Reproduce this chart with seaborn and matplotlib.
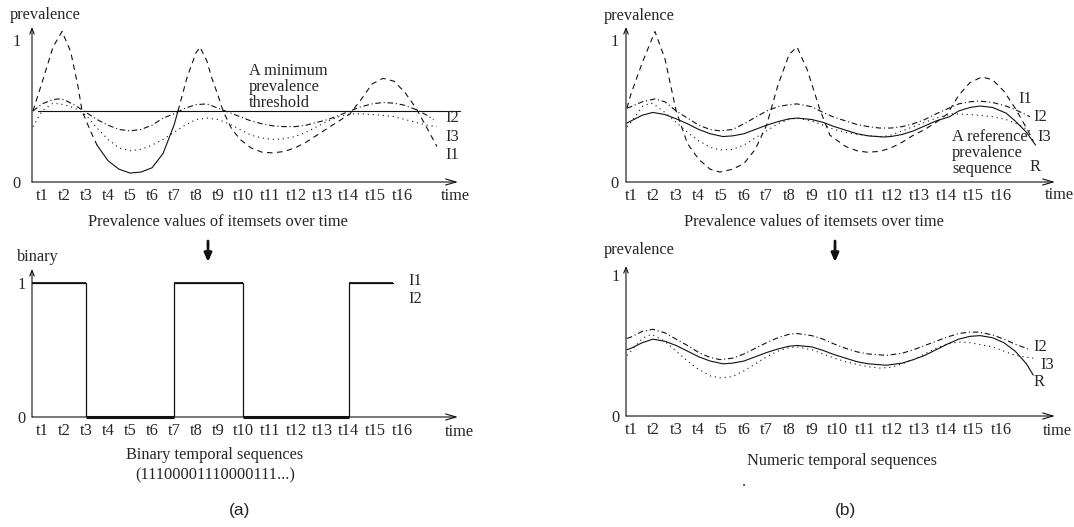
import numpy as np
import pandas as pd
import matplotlib
matplotlib.use("Agg")
import matplotlib.pyplot as plt
import seaborn as sns

sns.set_style("white")
plt.rcParams["font.family"] = ["Liberation Serif", "DejaVu Serif"]

W, H = 1074, 527
INK = "#111111"

# time axis (labels are not evenly spaced in the original)
tick_labels = ["t%d" % i for i in range(1, 17)]
tick_pos = [1, 2, 3, 4, 5, 6, 7, 8, 9, 10.15, 11.35, 12.55, 13.75, 14.95, 16.15, 17.4]

threshold = 0.5

# ---- (a) prevalence values of itemsets over time
a_i1_t = [0.59, 1.0, 1.5, 1.91, 2.3, 2.64, 2.82, 3.2, 3.5, 4.0, 4.5, 5.0, 5.5, 6.0, 6.5,
          7.0, 7.18, 7.6, 8.0, 8.18, 8.5, 8.7, 9.0, 9.23, 9.6, 10.0, 10.5, 11.0, 11.5, 12.0,
          12.5, 13.0, 13.5, 14.0, 14.5, 15.0, 15.5, 16.0, 16.5, 17.0, 17.5, 18.0, 18.5, 18.95]
a_i1_v = [0.50, 0.70, 0.95, 1.06, 0.92, 0.67, 0.50, 0.36, 0.26, 0.15, 0.09, 0.063, 0.07, 0.10, 0.20,
          0.40, 0.50, 0.74, 0.91, 0.95, 0.85, 0.74, 0.61, 0.50, 0.38, 0.30, 0.24, 0.21, 0.205, 0.215,
          0.24, 0.28, 0.33, 0.38, 0.43, 0.48, 0.58, 0.69, 0.73, 0.71, 0.63, 0.52, 0.38, 0.25]
a_i1_solid = (3.5, 7.18)   # part of I1 drawn solid (below threshold)

a_i2_t = [0.59, 1.0, 1.5, 1.73, 2.0, 2.5, 3.0, 3.5, 4.0, 4.5, 5.0, 5.5, 6.0, 6.5, 7.0, 7.5,
          8.0, 8.5, 9.0, 9.5, 10.0, 10.5, 11.0, 11.5, 12.0, 12.5, 13.0, 13.5, 14.0, 14.5,
          15.0, 15.5, 16.0, 16.5, 17.0, 17.5, 18.0, 18.5, 18.8]
a_i2_v = [0.50, 0.55, 0.58, 0.585, 0.58, 0.54, 0.49, 0.44, 0.40, 0.37, 0.36, 0.37, 0.40, 0.45, 0.48, 0.52,
          0.545, 0.55, 0.52, 0.49, 0.46, 0.43, 0.41, 0.395, 0.39, 0.39, 0.40, 0.42, 0.44, 0.47,
          0.50, 0.53, 0.55, 0.56, 0.555, 0.54, 0.51, 0.47, 0.44]

a_i3_t = [0.59, 1.0, 1.5, 2.0, 2.5, 3.0, 3.5, 4.0, 4.5, 5.0, 5.5, 6.0, 6.5, 7.0, 7.5, 8.0,
          8.5, 9.0, 9.5, 10.0, 10.5, 11.0, 11.5, 12.0, 12.5, 13.0, 13.5, 14.0, 14.5, 15.0,
          15.5, 16.0, 16.5, 17.0, 17.5, 18.0, 18.5, 18.95]
a_i3_v = [0.39, 0.50, 0.555, 0.545, 0.52, 0.47, 0.38, 0.30, 0.24, 0.22, 0.23, 0.26, 0.30, 0.35, 0.40, 0.44,
          0.45, 0.44, 0.41, 0.37, 0.33, 0.31, 0.30, 0.305, 0.32, 0.35, 0.39, 0.43, 0.46, 0.48,
          0.48, 0.475, 0.47, 0.46, 0.44, 0.42, 0.40, 0.39]

# binary sequence 11100001110000111...
bin_levels = [1, 0, 1, 0, 1]
bin_switch = ["t3", "t7", "t10", "t14"]
bin_end = 16.95

# ---- (b) prevalence values with a reference sequence R
b_i1_t = [0.82, 1.0, 1.5, 2.06, 2.5, 3.0, 3.5, 4.0, 4.5, 4.94, 5.5, 6.0, 6.5, 7.0, 7.5, 8.0,
          8.35, 8.8, 9.36, 9.8, 10.5, 11.0, 11.44, 12.0, 12.5, 13.0, 13.5, 14.0, 14.5, 15.0,
          15.5, 16.0, 16.53, 17.0, 17.5, 18.0, 18.5, 18.8]
b_i1_v = [0.52, 0.62, 0.84, 1.06, 0.87, 0.50, 0.27, 0.16, 0.09, 0.07, 0.09, 0.13, 0.23, 0.40, 0.68, 0.90,
          0.95, 0.79, 0.51, 0.33, 0.25, 0.22, 0.21, 0.215, 0.24, 0.28, 0.33, 0.37, 0.42, 0.48,
          0.61, 0.70, 0.74, 0.72, 0.64, 0.52, 0.38, 0.29]

b_i2_t = [0.82, 1.0, 1.5, 2.06, 2.5, 3.0, 3.5, 4.0, 4.5, 4.94, 5.5, 6.0, 6.5, 7.0, 7.5, 8.0,
          8.35, 9.0, 9.5, 10.0, 10.5, 11.0, 11.5, 12.0, 12.5, 13.0, 13.5, 14.0, 14.5, 15.0,
          15.5, 16.0, 16.4, 17.0, 17.5, 18.0, 18.65]
b_i2_v = [0.52, 0.53, 0.565, 0.585, 0.565, 0.50, 0.45, 0.40, 0.37, 0.36, 0.37, 0.41, 0.455, 0.50, 0.53, 0.545,
          0.55, 0.53, 0.49, 0.455, 0.43, 0.405, 0.39, 0.38, 0.38, 0.39, 0.41, 0.44, 0.48, 0.515,
          0.55, 0.565, 0.57, 0.56, 0.54, 0.51, 0.46]

b_i3_t = [0.82, 1.0, 1.5, 1.84, 2.0, 2.5, 3.0, 3.5, 4.0, 4.5, 4.94, 5.5, 6.0, 6.5, 7.0, 7.5,
          8.0, 8.35, 9.0, 9.5, 10.0, 10.5, 11.0, 11.5, 12.15, 12.5, 13.0, 13.5, 14.0, 14.5,
          15.2, 16.0, 16.4, 17.0, 17.6, 18.2, 18.8]
b_i3_v = [0.39, 0.42, 0.53, 0.556, 0.55, 0.49, 0.42, 0.35, 0.29, 0.245, 0.225, 0.23, 0.26, 0.31, 0.36, 0.41,
          0.44, 0.45, 0.43, 0.40, 0.37, 0.35, 0.335, 0.325, 0.32, 0.33, 0.36, 0.39, 0.42, 0.45,
          0.48, 0.475, 0.47, 0.46, 0.44, 0.40, 0.345]

b_r_t = [0.82, 1.0, 1.5, 1.97, 2.5, 3.0, 3.5, 4.0, 4.5, 5.07, 5.5, 6.0, 6.5, 7.0, 7.5, 8.0,
         8.35, 9.0, 9.5, 10.0, 10.5, 11.0, 11.5, 12.15, 12.5, 13.0, 13.5, 14.0, 14.5, 15.1,
         15.5, 16.0, 16.45, 17.0, 17.6, 18.0, 18.5, 18.9]
b_r_v = [0.415, 0.43, 0.47, 0.49, 0.475, 0.445, 0.41, 0.37, 0.34, 0.32, 0.325, 0.34, 0.37, 0.40, 0.425, 0.445,
         0.45, 0.44, 0.42, 0.39, 0.365, 0.34, 0.325, 0.317, 0.32, 0.335, 0.36, 0.395, 0.43, 0.46,
         0.50, 0.525, 0.535, 0.525, 0.485, 0.43, 0.35, 0.26]

# numeric temporal sequences (kept itemsets + R)
n_i2_t = [0.82, 1.0, 1.5, 1.97, 2.5, 3.0, 3.5, 4.0, 4.5, 4.94, 5.5, 6.0, 6.5, 7.0, 7.5, 8.0,
          8.35, 9.0, 9.5, 10.0, 10.5, 11.0, 11.5, 12.3, 13.0, 13.5, 14.0, 14.5, 15.0, 15.5,
          16.0, 16.4, 17.0, 17.5, 18.0, 18.65]
n_i2_v = [0.55, 0.56, 0.60, 0.615, 0.59, 0.545, 0.50, 0.45, 0.415, 0.40, 0.41, 0.44, 0.48, 0.52, 0.555, 0.58,
          0.585, 0.57, 0.545, 0.51, 0.48, 0.455, 0.44, 0.43, 0.445, 0.47, 0.50, 0.53, 0.56, 0.585,
          0.595, 0.595, 0.575, 0.545, 0.51, 0.47]

n_i3_t = [0.82, 1.0, 1.5, 1.9, 2.5, 3.0, 3.5, 4.0, 4.5, 4.94, 5.5, 6.0, 6.5, 7.0, 7.5, 8.0,
          8.35, 9.0, 9.5, 10.0, 10.5, 11.0, 11.5, 12.0, 12.5, 13.0, 13.5, 14.0, 14.5, 15.0,
          15.5, 16.0, 16.5, 17.0, 17.5, 18.0, 18.8]
n_i3_v = [0.43, 0.46, 0.55, 0.58, 0.53, 0.46, 0.39, 0.33, 0.285, 0.27, 0.28, 0.32, 0.37, 0.42, 0.46, 0.485,
          0.49, 0.47, 0.44, 0.41, 0.385, 0.365, 0.35, 0.34, 0.345, 0.37, 0.40, 0.44, 0.48, 0.51,
          0.525, 0.52, 0.505, 0.49, 0.46, 0.43, 0.41]

n_r_t = [0.82, 1.0, 1.5, 1.97, 2.5, 3.0, 3.5, 4.0, 4.5, 5.07, 5.5, 6.0, 6.5, 7.0, 7.5, 8.0,
         8.35, 9.0, 9.5, 10.0, 10.5, 11.0, 11.5, 12.3, 13.0, 13.5, 14.0, 14.5, 15.0, 15.5,
         16.0, 16.45, 17.0, 17.5, 18.0, 18.5, 18.8]
n_r_v = [0.47, 0.48, 0.52, 0.545, 0.53, 0.50, 0.46, 0.42, 0.39, 0.37, 0.375, 0.39, 0.42, 0.45, 0.475, 0.495,
         0.50, 0.49, 0.465, 0.435, 0.41, 0.385, 0.37, 0.36, 0.375, 0.40, 0.43, 0.47, 0.51, 0.545,
         0.565, 0.57, 0.555, 0.52, 0.46, 0.37, 0.29]

DASH = (0, (5, 4))
DASHDOT = (0, (5, 2.5, 1, 2.5))
DOT = (0, (1, 3.5))
FS = 11.8


def fx(px):
    return px / W


def fy(py):
    return 1 - py / H


def panel(left, right, zero, one, top, u0, upx, ypad):
    # axes placed in pixels; upx = pixels per time step
    ax = fig.add_axes([fx(left), fy(zero), (right - left) / W, (zero - top) / H])
    ax.set_xlim(u0, u0 + (right - left) / upx)
    ax.set_ylim(0, (zero - top) / (zero - one))
    sns.despine(ax=ax, left=True, bottom=True)
    ax.patch.set_alpha(0)
    ax.set_xticks(tick_pos, tick_labels)
    ax.set_yticks([0, 1], ["0", "1"])
    ax.tick_params(axis="x", length=0, pad=4, labelsize=FS)
    ax.tick_params(axis="y", length=0, pad=ypad, labelsize=FS)
    ax.annotate("", xy=(1, 0), xytext=(0, 0), xycoords="axes fraction",
                arrowprops=dict(arrowstyle="->,head_length=0.75,head_width=0.22",
                                lw=0.8, color=INK, shrinkA=0, shrinkB=0),
                annotation_clip=False)
    ax.annotate("", xy=(0, 1), xytext=(0, 0), xycoords="axes fraction",
                arrowprops=dict(arrowstyle="->,head_length=0.4,head_width=0.16",
                                lw=0.8, color=INK, shrinkA=0, shrinkB=0),
                annotation_clip=False)
    return ax


def curve(ax, t, v, ls, lw=0.8):
    df = pd.DataFrame({"t": t, "v": v})
    sns.lineplot(data=df, x="t", y="v", ax=ax, color=INK, lw=lw, linestyle=ls,
                 estimator=None, sort=False)
    ax.set(xlabel="", ylabel="")


fig = plt.figure(figsize=(W / 100, H / 100), dpi=100)

# ---------------- (a) top
ax1 = panel(32, 458, 182, 40, 27, 0.545, 22.0, 8)
ax1.axhline(threshold, xmin=0.014, xmax=1.005, color=INK, lw=0.8, clip_on=False)
t1 = np.array(a_i1_t)
v1 = np.array(a_i1_v)
m_left = t1 <= a_i1_solid[0]
m_mid = (t1 >= a_i1_solid[0]) & (t1 <= a_i1_solid[1])
m_right = t1 >= a_i1_solid[1]
curve(ax1, t1[m_left], v1[m_left], DASH)
curve(ax1, t1[m_mid], v1[m_mid], "-")
curve(ax1, t1[m_right], v1[m_right], DASH)
curve(ax1, a_i2_t, a_i2_v, DASHDOT)
curve(ax1, a_i3_t, a_i3_v, DOT)
ax1.text(10.41, 0.67, "A minimum\nprevalence\nthreshold", fontsize=FS,
         ha="left", va="center", linespacing=1.0)
ax1.text(19.32, 0.45, "I2", fontsize=FS, ha="left", va="center")
ax1.text(19.32, 0.317, "I3", fontsize=FS, ha="left", va="center")
ax1.text(19.32, 0.19, "I1", fontsize=FS, ha="left", va="center")

# ---------------- (a) bottom: binary
ax2 = panel(32, 458, 417, 283, 269, 0.545, 22.0, 4.5)
edges = [ax2.get_xlim()[0]] + [tick_pos[tick_labels.index(s)] for s in bin_switch] + [bin_end]
bdf = pd.DataFrame({"t": edges, "v": bin_levels + [bin_levels[-1]]})
sns.lineplot(data=bdf, x="t", y="v", ax=ax2, color=INK, lw=0.9,
             drawstyle="steps-post", estimator=None, sort=False)
ax2.set(xlabel="", ylabel="")
for i, lev in enumerate(bin_levels):
    ax2.hlines(lev, edges[i], edges[i + 1], color=INK,
               lw=2.2 if lev == 0 else 1.3, clip_on=False)
ax2.text(17.64, 1.015, "I1", fontsize=FS, ha="left", va="center")
ax2.text(17.64, 0.88, "I2", fontsize=FS, ha="left", va="center")

# ---------------- (b) top
ax3 = panel(626, 1055, 182, 40, 27, 0.78, 22.6, 5)
curve(ax3, b_i1_t, b_i1_v, DASH)
curve(ax3, b_i2_t, b_i2_v, DASHDOT)
curve(ax3, b_i3_t, b_i3_v, DOT)
curve(ax3, b_r_t, b_r_v, "-")
ax3.text(18.12, 0.585, "I1", fontsize=FS, ha="left", va="center")
ax3.text(18.79, 0.458, "I2", fontsize=FS, ha="left", va="center")
ax3.text(19.0, 0.317, "I3", fontsize=FS, ha="left", va="center")
ax3.text(15.2, 0.204, "A reference\nprevalence\nsequence", fontsize=FS,
         ha="left", va="center", linespacing=1.0)
ax3.text(18.65, 0.106, "R", fontsize=FS, ha="left", va="center")

# ---------------- (b) bottom: numeric
ax4 = panel(626, 1055, 416, 275, 266, 0.78, 22.6, 4.5)
curve(ax4, n_i2_t, n_i2_v, DASHDOT)
curve(ax4, n_i3_t, n_i3_v, DOT)
curve(ax4, n_r_t, n_r_v, "-")
ax4.text(18.79, 0.49, "I2", fontsize=FS, ha="left", va="center")
ax4.text(19.1, 0.36, "I3", fontsize=FS, ha="left", va="center")
ax4.text(18.79, 0.24, "R", fontsize=FS, ha="left", va="center")

# ---------------- free text
fig.text(fx(10), fy(15), "prevalence", fontsize=FS, ha="left", va="center")
fig.text(fx(604), fy(16), "prevalence", fontsize=FS, ha="left", va="center")
fig.text(fx(17), fy(257), "binary", fontsize=FS, ha="left", va="center")
fig.text(fx(604), fy(250), "prevalence", fontsize=FS, ha="left", va="center")
fig.text(fx(441), fy(196), "time", fontsize=FS, ha="left", va="center")
fig.text(fx(445), fy(432), "time", fontsize=FS, ha="left", va="center")
fig.text(fx(1045), fy(195), "time", fontsize=FS, ha="left", va="center")
fig.text(fx(1043), fy(431), "time", fontsize=FS, ha="left", va="center")

fig.text(fx(218), fy(222), "Prevalence values of itemsets over time", fontsize=FS, ha="center", va="center")
fig.text(fx(814), fy(222), "Prevalence values of itemsets over time", fontsize=FS, ha="center", va="center")
fig.text(fx(215), fy(455), "Binary temporal sequences", fontsize=FS, ha="center", va="center")
fig.text(fx(215), fy(475), "(11100001110000111...)", fontsize=FS, ha="center", va="center")
fig.text(fx(842), fy(461), "Numeric temporal sequences", fontsize=FS, ha="center", va="center")
fig.text(fx(744), fy(482), ".", fontsize=FS, ha="center", va="center")

fig.text(fx(240), fy(511), "(a)", fontsize=12.5, ha="center", va="center", family=["Liberation Sans"])
fig.text(fx(846), fy(511), "(b)", fontsize=12.5, ha="center", va="center", family=["Liberation Sans"])

for x in (208, 835):
    ax1.annotate("", xy=(fx(x), fy(262)), xytext=(fx(x), fy(241)), xycoords="figure fraction",
                 arrowprops=dict(arrowstyle="-|>,head_length=0.5,head_width=0.22",
                                 lw=2.0, color=INK, shrinkA=0, shrinkB=0),
                 annotation_clip=False)

fig.savefig("out.png", dpi=100)
